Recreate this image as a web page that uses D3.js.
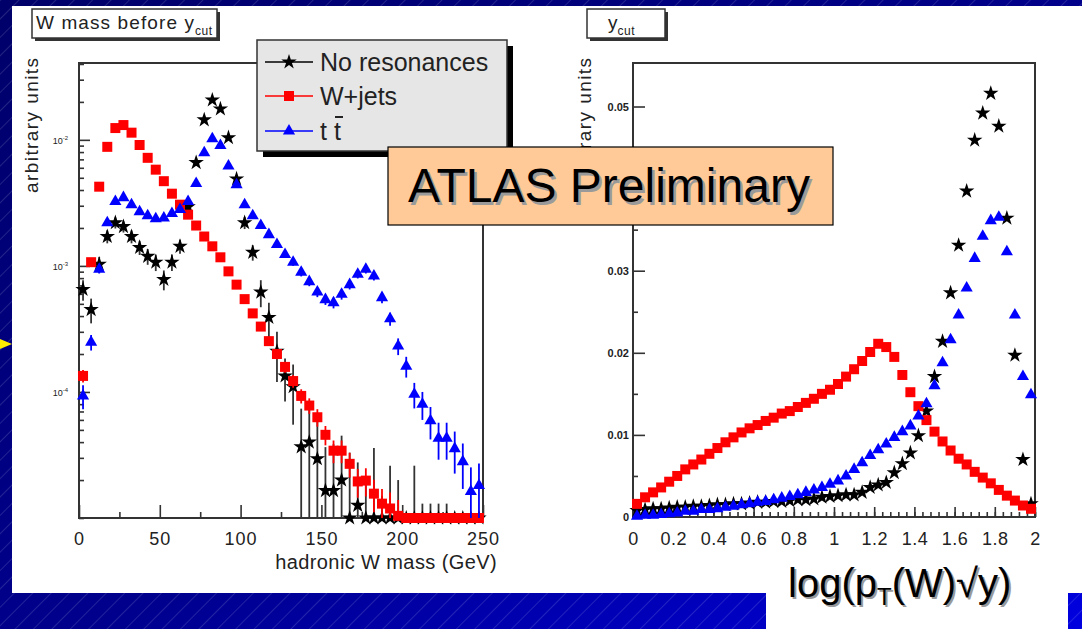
<!DOCTYPE html>
<html>
<head>
<meta charset="utf-8">
<script src="https://cdn.jsdelivr.net/npm/d3@7"></script>
<style>
  body { margin: 0; background: #000080; }
  svg { display: block; font-family: "Liberation Sans", Arial, Helvetica, sans-serif; }
</style>
</head>
<body>
<svg id="chart" width="1082" height="629"></svg>
<script>
// ---- data ----
// left panel: hadronic W mass, 5 GeV bins (bin centres)
var massBins = [2.5, 7.5, 12.5, 17.5, 22.5, 27.5, 32.5, 37.5, 42.5, 47.5,
  52.5, 57.5, 62.5, 67.5, 72.5, 77.5, 82.5, 87.5, 92.5, 97.5,
  102.5, 107.5, 112.5, 117.5, 122.5, 127.5, 132.5, 137.5, 142.5, 147.5,
  152.5, 157.5, 162.5, 167.5, 172.5, 177.5, 182.5, 187.5, 192.5, 197.5,
  202.5, 207.5, 212.5, 217.5, 222.5, 227.5, 232.5, 237.5, 242.5, 247.5];
var noResMass = [6.5e-4, 4.5e-4, 1.03e-3, 1.71e-3, 2.2e-3, 2.05e-3, 1.71e-3, 1.4e-3, 1.19e-3, 1.07e-3,
  7.8e-4, 1.07e-3, 1.43e-3, 2.95e-3, 6.6e-3, 1.44e-2, 2.07e-2, 1.76e-2, 1.04e-2, 4.9e-3,
  2.2e-3, 1.28e-3, 6.2e-4, 3.9e-4, 2.1e-4, 1.34e-4, 1.1e-4, 3.67e-5, 4.0e-5, 2.95e-5,
  1.65e-5, 1.65e-5, 2.0e-5, 8e-6, 1.26e-5, 8e-6, 8e-6, 5e-6, 8e-6, 6e-6,
  0, 6e-6, 4e-6, 4e-6, 4e-6, 4e-6, 0, 0, 0, 0];
var noResMassErr = [1.2e-4, 1.0e-4, 1.5e-4, 2e-4, 2.2e-4, 2.1e-4, 2e-4, 1.8e-4, 1.7e-4, 1.6e-4,
  1.4e-4, 1.6e-4, 1.8e-4, 2.6e-4, 4e-4, 6e-4, 7e-4, 6.5e-4, 5e-4, 3.5e-4,
  2.4e-4, 1.8e-4, 1.5e-4, 1.2e-4, 0.9e-4, 0.5e-4, 0.55e-4, 3.7e-5, 3.2e-5, 3e-5,
  2e-5, 2.2e-5, 2.5e-5, 2.5e-5, 1.5e-5, 1.2e-5, 2.8e-5, 1e-5, 1.8e-5, 1.4e-5,
  0, 2.0e-5, 9e-6, 9e-6, 9e-6, 9e-6, 0, 0, 0, 0];
var wjetsMass = [1.34e-4, 1.07e-3, 4.25e-3, 8.8e-3, 1.24e-2, 1.31e-2, 1.14e-2, 9.1e-3, 7.2e-3, 5.8e-3,
  4.7e-3, 3.74e-3, 3.06e-3, 2.55e-3, 2.09e-3, 1.71e-3, 1.43e-3, 1.17e-3, 9.05e-4, 7.1e-4,
  5.45e-4, 4.2e-4, 3.3e-4, 2.53e-4, 2.0e-4, 1.58e-4, 1.22e-4, 9.3e-5, 7.8e-5, 6.3e-5,
  4.57e-5, 3.42e-5, 3.42e-5, 2.69e-5, 1.95e-5, 1.98e-5, 1.56e-5, 1.3e-5, 1.19e-5, 1.04e-5,
  0, 0, 0, 0, 0, 0, 0, 0, 0, 0];
var wjetsMassErr = [1.5e-5, 5e-5, 1e-4, 1.4e-4, 1.6e-4, 1.7e-4, 1.6e-4, 1.4e-4, 1.2e-4, 1.1e-4,
  1e-4, 9e-5, 8e-5, 7e-5, 6e-5, 5.5e-5, 5e-5, 4.5e-5, 4e-5, 3.5e-5,
  3e-5, 2.6e-5, 2.3e-5, 2e-5, 1.8e-5, 1.6e-5, 1.4e-5, 1.2e-5, 1.1e-5, 1e-5,
  8e-6, 7e-6, 7e-6, 6e-6, 5e-6, 5e-6, 4.5e-6, 4e-6, 4e-6, 3.5e-6,
  0, 0, 0, 0, 0, 0, 0, 0, 0, 0];
var ttbarMass = [9.3e-5, 2.48e-4, 9.4e-4, 2.2e-3, 3.24e-3, 3.48e-3, 3.06e-3, 2.69e-3, 2.5e-3, 2.37e-3,
  2.4e-3, 2.6e-3, 2.8e-3, 3.24e-3, 4.5e-3, 7.9e-3, 1.02e-2, 9.0e-3, 6.2e-3, 4.4e-3,
  3.06e-3, 2.5e-3, 2.09e-3, 1.77e-3, 1.48e-3, 1.23e-3, 1.07e-3, 8.9e-4, 7.5e-4, 6.2e-4,
  5.4e-4, 5.1e-4, 5.95e-4, 7.1e-4, 8.6e-4, 9.4e-4, 8.3e-4, 5.6e-4, 3.8e-4, 2.31e-4,
  1.6e-4, 9.6e-5, 8.0e-5, 5.9e-5, 4.3e-5, 4.3e-5, 3.55e-5, 2.8e-5, 1.62e-5, 1.81e-5];
var ttbarMassErr = [2e-5, 3.5e-5, 7e-5, 1e-4, 1.2e-4, 1.3e-4, 1.2e-4, 1.1e-4, 1.1e-4, 1e-4,
  1e-4, 1.1e-4, 1.1e-4, 1.2e-4, 1.4e-4, 1.9e-4, 2.1e-4, 2e-4, 1.6e-4, 1.4e-4,
  1.2e-4, 1.1e-4, 1e-4, 9e-5, 8.5e-5, 7.5e-5, 7e-5, 6.5e-5, 6e-5, 5.5e-5,
  5e-5, 5e-5, 5.5e-5, 6e-5, 6.5e-5, 7e-5, 6.5e-5, 5.5e-5, 4.5e-5, 3.5e-5,
  3e-5, 2.2e-5, 2e-5, 1.7e-5, 1.4e-5, 1.4e-5, 1.3e-5, 1.1e-5, 9e-6, 9e-6];

// right panel: log(pT(W) sqrt(y)), 0.04 bins (bin centres)
var ycutBins = [0.02, 0.06, 0.10, 0.14, 0.18, 0.22, 0.26, 0.30, 0.34, 0.38,
  0.42, 0.46, 0.50, 0.54, 0.58, 0.62, 0.66, 0.70, 0.74, 0.78,
  0.82, 0.86, 0.90, 0.94, 0.98, 1.02, 1.06, 1.10, 1.14, 1.18,
  1.22, 1.26, 1.30, 1.34, 1.38, 1.42, 1.46, 1.50, 1.54, 1.58,
  1.62, 1.66, 1.70, 1.74, 1.78, 1.82, 1.86, 1.90, 1.94, 1.98];
var noResYcut = [0.0008, 0.0009, 0.0010, 0.0010, 0.0011, 0.0012, 0.0012, 0.0013, 0.0013, 0.0014,
  0.0015, 0.0015, 0.0016, 0.0016, 0.0017, 0.0018, 0.0018, 0.0019, 0.0019, 0.0020,
  0.0021, 0.0021, 0.0022, 0.0024, 0.0025, 0.0026, 0.0027, 0.0027, 0.0030, 0.0036,
  0.0039, 0.0042, 0.0054, 0.0065, 0.0078, 0.0099, 0.0129, 0.0171, 0.0214, 0.0273,
  0.0331, 0.0397, 0.0459, 0.0492, 0.0516, 0.0476, 0.0364, 0.0197, 0.0070, 0.0016];
var wjetsYcut = [0.0016, 0.0024, 0.0030, 0.0036, 0.0043, 0.0050, 0.0058, 0.0064, 0.0070, 0.0077,
  0.0084, 0.0091, 0.0097, 0.0103, 0.0108, 0.0112, 0.0117, 0.0121, 0.0126, 0.0129,
  0.0134, 0.0139, 0.0144, 0.0150, 0.0155, 0.0162, 0.0171, 0.0180, 0.0190, 0.0201,
  0.0211, 0.0207, 0.0195, 0.0173, 0.0152, 0.0135, 0.0118, 0.0104, 0.0092, 0.0081,
  0.0071, 0.0064, 0.0055, 0.0048, 0.0041, 0.0033, 0.0026, 0.0020, 0.0014, 0.0010];
var ttbarYcut = [0.0001, 0.0002, 0.0002, 0.0003, 0.0004, 0.0005, 0.0007, 0.0007, 0.0009, 0.0009,
  0.0010, 0.0012, 0.0013, 0.0015, 0.0016, 0.0018, 0.0019, 0.0021, 0.0023, 0.0025,
  0.0027, 0.0030, 0.0033, 0.0036, 0.0040, 0.0044, 0.0050, 0.0058, 0.0066, 0.0075,
  0.0082, 0.0089, 0.0097, 0.0104, 0.0111, 0.0123, 0.0138, 0.0160, 0.0188, 0.0216,
  0.0246, 0.0279, 0.0315, 0.0342, 0.0361, 0.0365, 0.0323, 0.0246, 0.0171, 0.0149];

// ticks and labels
var massTicks = [0, 50, 100, 150, 200, 250];
var massMinorTicks = [25, 75, 125, 175, 225];
var massDecades = [1e-4, 1e-3, 1e-2];
var massDecadeExp = ['-4', '-3', '-2'];
var ycutTicks = [0, 0.2, 0.4, 0.6, 0.8, 1, 1.2, 1.4, 1.6, 1.8, 2];
var ycutTickLabels = ['0', '0.2', '0.4', '0.6', '0.8', '1', '1.2', '1.4', '1.6', '1.8', '2'];
var ycutMinorStep = 0.04;
var ycutYTicks = [0, 0.01, 0.02, 0.03, 0.04, 0.05];
var ycutYMinor = [0.005, 0.015, 0.025, 0.035, 0.045];
var legendNames = ['No resonances', 'W+jets', 't t'];

var W = 1082, H = 629;
var svg = d3.select('#chart');
var defs = svg.append('defs');

// background: navy gradient with diagonal hatching
var grad = defs.append('linearGradient').attr('id', 'bgGrad')
    .attr('x1', 0).attr('y1', 0).attr('x2', 1).attr('y2', 1);
grad.append('stop').attr('offset', '0').attr('stop-color', '#00006a');
grad.append('stop').attr('offset', '0.55').attr('stop-color', '#00008e');
grad.append('stop').attr('offset', '1').attr('stop-color', '#0000e0');
var hatch = defs.append('pattern').attr('id', 'hatch')
    .attr('patternUnits', 'userSpaceOnUse')
    .attr('width', 13).attr('height', 13)
    .attr('patternTransform', 'rotate(45)');
hatch.append('line').attr('x1', 0).attr('y1', 0).attr('x2', 0).attr('y2', 13)
    .attr('stroke', '#ffffff').attr('stroke-opacity', 0.35).attr('stroke-width', 0.8);

svg.append('rect').attr('width', W).attr('height', H).attr('fill', 'url(#bgGrad)');
svg.append('rect').attr('width', W).attr('height', H).attr('fill', 'url(#hatch)');
// white sheet and the label cut-out at the bottom
svg.append('rect').attr('x', 12).attr('y', 6).attr('width', W - 12).attr('height', 587).attr('fill', '#fff');
svg.append('rect').attr('x', 766).attr('y', 590).attr('width', 302).attr('height', 39).attr('fill', '#fff');
// yellow bullet arrow at the left edge
svg.append('path').attr('d', 'M0,339L12,344L0,349Z').attr('fill', '#ffee00');

// ---- scales ----
var xMass = d3.scaleLinear().domain([0, 250]).range([79, 483]);
var yMass = d3.scaleLog().domain([1e-5, 0.0407]).range([518, 63]).clamp(true);
var xYcut = d3.scaleLinear().domain([0, 2]).range([633, 1035]);
var yYcut = d3.scaleLinear().domain([0, 0.0553]).range([517, 63]);

var tickColour = '#333';

function styleAxis(g) {
    g.select('.domain').remove();
    g.selectAll('.tick line').attr('stroke', tickColour).attr('stroke-width', 1.6);
    g.selectAll('.tick text').attr('fill', '#222');
}

// ---- left panel axes ----
var left = svg.append('g');
left.append('g').attr('transform', 'translate(0,518)')
    .call(d3.axisBottom(xMass).tickValues(massMinorTicks).tickSize(-6).tickFormat(''))
    .call(styleAxis);
left.append('g').attr('transform', 'translate(0,518)')
    .call(d3.axisBottom(xMass).tickValues(massTicks).tickSize(-13).tickPadding(14).tickFormat(d3.format('d')))
    .call(styleAxis)
    .selectAll('.tick text').attr('font-size', 18).attr('letter-spacing', 1);
var logMinor = yMass.ticks().filter(function (d) {
    return massDecades.indexOf(d) < 0;
});
left.append('g').attr('transform', 'translate(79,0)')
    .call(d3.axisLeft(yMass).tickValues(logMinor).tickSize(-5).tickFormat(''))
    .call(styleAxis);
left.append('g').attr('transform', 'translate(79,0)')
    .call(d3.axisLeft(yMass).tickValues(massDecades).tickSize(-11).tickFormat(''))
    .call(styleAxis);
massDecades.forEach(function (d, i) {
    var t = left.append('text').attr('x', 68).attr('y', yMass(d) + 4)
        .attr('text-anchor', 'end').attr('font-size', 9).attr('fill', '#222');
    t.append('tspan').text('10');
    t.append('tspan').attr('font-size', 6).attr('dy', -4).text(massDecadeExp[i]);
});
left.append('rect').attr('x', 79).attr('y', 63).attr('width', 404).attr('height', 455)
    .attr('fill', 'none').attr('stroke', tickColour).attr('stroke-width', 2);

// ---- right panel axes ----
var right = svg.append('g');
var ycutMinor = d3.range(0, 2 + 1e-9, ycutMinorStep);
right.append('g').attr('transform', 'translate(0,517)')
    .call(d3.axisBottom(xYcut).tickValues(ycutMinor).tickSize(-5).tickFormat(''))
    .call(styleAxis);
right.append('g').attr('transform', 'translate(0,517)')
    .call(d3.axisBottom(xYcut).tickValues(ycutTicks).tickSize(-10).tickPadding(15)
        .tickFormat(function (d, i) { return ycutTickLabels[i]; }))
    .call(styleAxis)
    .selectAll('.tick text').attr('font-size', 18).attr('letter-spacing', 0.5);
right.append('g').attr('transform', 'translate(633,0)')
    .call(d3.axisLeft(yYcut).tickValues(ycutYMinor).tickSize(-5).tickFormat(''))
    .call(styleAxis);
right.append('g').attr('transform', 'translate(633,0)')
    .call(d3.axisLeft(yYcut).tickValues(ycutYTicks).tickSize(-12).tickPadding(4)
        .tickFormat(function (d) { return d === 0 ? '0' : d3.format('.2f')(d); }))
    .call(styleAxis)
    .selectAll('.tick text').attr('font-size', 11).attr('font-weight', 'bold');
right.append('rect').attr('x', 633).attr('y', 63).attr('width', 402).attr('height', 454)
    .attr('fill', 'none').attr('stroke', tickColour).attr('stroke-width', 2);

// ---- series ----
var seriesStyle = [
    { colour: '#000000', bar: '#333333', shape: d3.symbolStar, size: 74 },
    { colour: '#ff0000', bar: '#ff0000', shape: d3.symbolSquare, size: 100 },
    { colour: '#0000ff', bar: '#0000ff', shape: d3.symbolTriangle, size: 64 }
];

function drawSeries(g, xs, ys, errs, xScale, yScale, style, floor) {
    var pts = xs.map(function (x, i) {
        return { x: x, y: Math.max(ys[i], floor), lo: Math.max(ys[i] - (errs ? errs[i] : 0), floor),
                 hi: ys[i] + (errs ? errs[i] : 0) };
    });
    if (errs) {
        g.append('g').selectAll('line').data(pts.filter(function (p) { return p.hi > p.lo; }))
            .enter().append('line')
            .attr('x1', function (p) { return xScale(p.x); })
            .attr('x2', function (p) { return xScale(p.x); })
            .attr('y1', function (p) { return yScale(p.lo); })
            .attr('y2', function (p) { return yScale(p.hi); })
            .attr('stroke', style.bar).attr('stroke-width', 1.8);
    }
    g.append('g').selectAll('path').data(pts).enter().append('path')
        .attr('d', d3.symbol(style.shape).size(style.size))
        .attr('transform', function (p) {
            return 'translate(' + xScale(p.x) + ',' + yScale(p.y) + ')';
        })
        .attr('fill', style.colour);
}

var massFloor = yMass.domain()[0];
drawSeries(left, massBins, noResMass, noResMassErr, xMass, yMass, seriesStyle[0], massFloor);
drawSeries(left, massBins, wjetsMass, wjetsMassErr, xMass, yMass, seriesStyle[1], massFloor);
drawSeries(left, massBins, ttbarMass, ttbarMassErr, xMass, yMass, seriesStyle[2], massFloor);

drawSeries(right, ycutBins, noResYcut, null, xYcut, yYcut, seriesStyle[0], 0);
drawSeries(right, ycutBins, wjetsYcut, null, xYcut, yYcut, seriesStyle[1], 0);
drawSeries(right, ycutBins, ttbarYcut, null, xYcut, yYcut, seriesStyle[2], 0);

// ---- axis titles ----
svg.append('text').attr('transform', 'translate(38,58) rotate(-90)')
    .attr('text-anchor', 'end').attr('font-size', 19).attr('fill', '#222')
    .attr('textLength', 135).attr('lengthAdjust', 'spacing').text('arbitrary units');
svg.append('text').attr('transform', 'translate(591,58) rotate(-90)')
    .attr('text-anchor', 'end').attr('font-size', 19).attr('fill', '#222')
    .attr('textLength', 135).attr('lengthAdjust', 'spacing').text('arbitrary units');
svg.append('text').attr('x', 497).attr('y', 569).attr('text-anchor', 'end')
    .attr('font-size', 20).attr('fill', '#222').attr('letter-spacing', 0.4)
    .text('hadronic W mass (GeV)');

// ---- title boxes ----
function titleBox(x, y, w, h, main, sub, tx, mainLen) {
    svg.append('rect').attr('x', x + 3).attr('y', y + 3).attr('width', w).attr('height', h).attr('fill', '#333');
    svg.append('rect').attr('x', x).attr('y', y).attr('width', w).attr('height', h)
        .attr('fill', '#fff').attr('stroke', '#333').attr('stroke-width', 1.5);
    var t = svg.append('text').attr('x', tx).attr('y', y + 20).attr('font-size', 19).attr('fill', '#222');
    var m = t.append('tspan').text(main);
    if (mainLen) m.attr('textLength', mainLen).attr('lengthAdjust', 'spacing');
    t.append('tspan').attr('font-size', 12).attr('dy', 6).attr('letter-spacing', 0.5).text(sub);
}
titleBox(32, 9, 185, 29, 'W mass before y', 'cut', 36, 158);
titleBox(587, 9, 78, 29, 'y', 'cut', 608, 0);

// ---- legend ----
svg.append('rect').attr('x', 263).attr('y', 46).attr('width', 250).attr('height', 111).attr('fill', '#000');
svg.append('rect').attr('x', 257).attr('y', 40).attr('width', 250).attr('height', 111)
    .attr('fill', '#e6e6e6').attr('stroke', '#333').attr('stroke-width', 1.5);
var legendY = [62, 96, 131];
legendNames.forEach(function (name, i) {
    var st = seriesStyle[i];
    svg.append('line').attr('x1', 265).attr('x2', 313).attr('y1', legendY[i]).attr('y2', legendY[i])
        .attr('stroke', st.colour).attr('stroke-width', 1.5);
    svg.append('path').attr('d', d3.symbol(st.shape).size(st.size)())
        .attr('transform', 'translate(289,' + legendY[i] + ')').attr('fill', st.colour);
    svg.append('text').attr('x', 320).attr('y', legendY[i] + 9).attr('font-size', 25)
        .attr('fill', '#222').text(name);
});
// bar over the second t
svg.append('line').attr('x1', 335).attr('x2', 343).attr('y1', 117).attr('y2', 117)
    .attr('stroke', '#222').attr('stroke-width', 2);

// ---- ATLAS Preliminary box ----
svg.append('rect').attr('x', 388).attr('y', 147).attr('width', 445).attr('height', 78)
    .attr('fill', '#ffca98').attr('stroke', '#000').attr('stroke-width', 1.2);
svg.append('text').attr('x', 410.5).attr('y', 204.5).attr('font-size', 48).attr('fill', '#9a9a9a')
    .text('ATLAS Preliminary');
svg.append('text').attr('x', 408).attr('y', 202).attr('font-size', 48).attr('fill', '#000')
    .text('ATLAS Preliminary');

// ---- big x title of the right panel ----
function bigLabel(dx, dy, colour) {
    var t = svg.append('text').attr('x', 788 + dx).attr('y', 597 + dy)
        .attr('font-size', 40).attr('fill', colour);
    t.append('tspan').text('log(p');
    t.append('tspan').attr('font-size', 24).attr('dy', 8).text('T');
    t.append('tspan').attr('dy', -8).text('(W)\u221Ay)');
}
bigLabel(2, 2, '#9a9a9a');
bigLabel(0, 0, '#000');
</script>
</body>
</html>
